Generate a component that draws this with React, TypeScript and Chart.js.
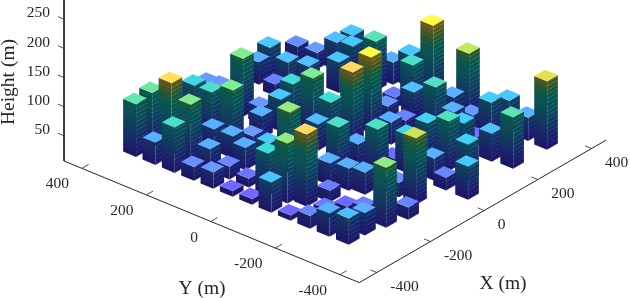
import React, { useEffect, useRef } from "react";
import Chart from "chart.js/auto";

const buildingX = [-324,-264,-264,-113,2,11,-135,-143,-264,-324,-7,139,175,121,-183,-180,-127,-60,-6,-324,-4,-194,-264,-324,-264,-204,-324,-324,-264,-264,-324,-324,287,287,313,349,296,307,162,179,232,130,59,27,34,25,-146,-18,-74,-246,-264,-21,118,244,279,364,347,347,262,195,-69,-202,112,36,187,227,309,300,346,253,293,109,179,217,345,341,210,102,30,243,49,31,341,-16,-131,-121,-111,-194,-138,-206,-203,-324,-264,-324,-324,-324,-264,44,-68];
const buildingY = [353,353,293,346,401,368,275,203,233,233,285,357,353,290,228,172,154,182,230,293,170,48,-7,-67,173,113,173,113,113,53,53,-7,360,300,260,240,125,206,286,235,186,2,-1,96,164,39,24,43,-68,-112,-67,-145,-70,-36,-4,73,-10,114,37,4,-303,-321,-189,-191,-58,-118,-106,-229,-246,-153,-178,-257,-245,-366,-306,-368,-306,-322,-382,-229,-261,-313,-126,-79,-88,-138,-180,-140,-336,-203,-257,-247,-307,-187,-307,-127,-187,-141,-249];
const buildingH = [91,94,125,68,28,28,78,100,101,78,100,38,55,20,38,38,28,38,28,38,55,58,72,52,38,38,24,28,22,15,10,10,25,28,48,55,85,55,48,48,52,130,124,100,72,72,104,45,80,124,103,80,38,48,78,55,130,38,18,28,114,103,65,65,20,80,38,60,55,38,28,85,60,88,40,118,48,62,57,15,38,22,110,38,38,38,38,20,21,10,20,40,38,22,45,9,18,12,25];
const colormapHeights = [0,10,20,28,38,48,55,65,72,80,90,100,110,118,124,130];
const colormapColors = ["#7468ff","#7068ff","#6a80ff","#6a9aff","#5ab0ff","#50c0ff","#48c8ff","#40d4f0","#40dcd8","#50e0c4","#60e4b0","#80ec90","#c0e860","#e0e050","#ffd860","#ffff40"];
const shadeHeights = [0,15,30,50,70,90,105,118,130];
const shadeColors = ["#1c1560","#1a1e64","#162b64","#103c5a","#0b4c54","#0a544a","#285430","#565420","#685c16"];
const xTicks = [-400,-200,0,200,400];
const yTicks = [400,200,0,-200,-400];
const zTicks = [50,100,150,200,250];
const xLabels = ["-400","-200","0","200","400"];
const yLabels = ["400","200","0","-200","-400"];

const FONT = '"Liberation Serif", serif';
const INK = "#262626";
const HALF = 20;
const X_END = [-465, 455];
const Y_END = [-460, 455];
const Z_FLOOR = -2.5;

const sx = (X: number, Y: number) => 335.8 + 0.2685 * X - 0.3225 * Y;
const sy = (X: number, Y: number, Z: number) => 147.9 - 0.155 * X - 0.133 * Y - 0.58 * Z;
const pt = (X: number, Y: number, Z: number) => ({ x: sx(X, Y), y: sy(X, Y, Z) });

function hexRgb(h: string) {
  return [1, 3, 5].map((i) => parseInt(h.slice(i, i + 2), 16));
}
function lookup(hs: number[], cs: string[], z: number, k = 1) {
  let i = 0;
  while (i < hs.length - 2 && z > hs[i + 1]) i++;
  const t = Math.max(0, Math.min(1, (z - hs[i]) / (hs[i + 1] - hs[i])));
  const a = hexRgb(cs[i]);
  const b = hexRgb(cs[i + 1]);
  const c = a.map((v, n) => Math.min(255, Math.round((v + (b[n] - v) * t) * k)));
  return `rgb(${c[0]},${c[1]},${c[2]})`;
}

function sideFill(A: any, B: any, H: number, bright: number) {
  return (ctx: any) => {
    const chart = ctx.chart;
    const safe = (s: any, v: number) => {
      const r = s ? s.getPixelForValue(v) : NaN;
      return Number.isFinite(r) ? r : v;
    };
    const px = (v: number) => safe(chart.scales.x, v);
    const py = (v: number) => safe(chart.scales.y, v);
    const ex = px(B.x) - px(A.x);
    const ey = py(B.y) - py(A.y);
    const len = Math.hypot(ex, ey) || 1;
    const nx = ey / len;
    const ny = -ex / len;
    const ax = px(A.x);
    const ay = py(A.y);
    const pixH = 0.58 * H;
    const sgn = ny < 0 ? 1 : -1;
    const d = pixH * Math.abs(ny);
    const g = chart.ctx.createLinearGradient(ax, ay, ax + sgn * nx * d, ay + sgn * ny * d);
    const band = 2.4;
    const n = Math.max(1, Math.floor(H / band));
    for (let i = 0; i < n; i++) {
      const z0 = (i * H) / n;
      const z1 = ((i + 1) * H) / n;
      const strong = i % 3 === 0 ? bright : 1;
      const c = lookup(shadeHeights, shadeColors, (z0 + z1) / 2, strong);
      g.addColorStop(i / n, c);
      g.addColorStop((i + 1) / n, c);
    }
    return g;
  };
}

function buildDatasets() {
  const order = buildingX
    .map((_, i) => i)
    .sort((a, b) => 0.3225 * buildingX[a] + 0.2685 * buildingY[a] - (0.3225 * buildingX[b] + 0.2685 * buildingY[b]));
  const sets: any[] = [];
  const ink = (data: any[], width = 0.8) => ({
    data,
    borderColor: INK,
    borderWidth: width,
    pointRadius: 0,
    fill: false,
    tension: 0,
    clip: false,
  });
  sets.push(ink([{ x: 64, y: 0 }, { x: 64, y: 161 }, pt(X_END[0], Y_END[0], Z_FLOOR), pt(X_END[1], Y_END[0], Z_FLOOR)], 1));
  yTicks.forEach((t) => sets.push(ink([pt(X_END[0], t, Z_FLOOR), pt(X_END[0] + 25, t, Z_FLOOR)])));
  xTicks.forEach((t) => sets.push(ink([pt(t, Y_END[0], Z_FLOOR), pt(t, Y_END[0] + 20, Z_FLOOR)])));
  zTicks.forEach((t) => {
    const y = 165 - 0.583 * t;
    sets.push(ink([{ x: 64, y }, { x: 58, y: y - 2.6 }]));
  });
  for (const i of order) {
    const X = buildingX[i];
    const Y = buildingY[i];
    const H = buildingH[i];
    const left = pt(X - HALF, Y + HALF, 0);
    const front = pt(X - HALF, Y - HALF, 0);
    const right = pt(X + HALF, Y - HALF, 0);
    const face = (data: any[], backgroundColor: any) => ({
      data,
      backgroundColor,
      borderWidth: 0,
      pointRadius: 0,
      fill: "shape",
      tension: 0,
    });
    sets.push(
      face(
        [pt(X - HALF, Y + HALF, H), pt(X - HALF, Y - HALF, H), pt(X + HALF, Y - HALF, H), pt(X + HALF, Y + HALF, H)],
        lookup(colormapHeights, colormapColors, H)
      )
    );
    sets.push(face([left, front, pt(X - HALF, Y - HALF, H), pt(X - HALF, Y + HALF, H)], sideFill(left, front, H, 1.08)));
    sets.push(face([front, right, pt(X + HALF, Y - HALF, H), pt(X - HALF, Y - HALF, H)], sideFill(front, right, H, 1.35)));
  }
  return sets;
}

const textPlugin = {
  id: "projectedText",
  afterDraw(chart: any) {
    const { ctx, scales } = chart;
    const px = (v: number) => scales.x.getPixelForValue(v);
    const py = (v: number) => scales.y.getPixelForValue(v);
    ctx.save();
    ctx.fillStyle = INK;
    ctx.textBaseline = "middle";
    ctx.font = `15.5px ${FONT}`;
    ctx.textAlign = "right";
    yTicks.forEach((t, i) => {
      const p = pt(X_END[0], t, Z_FLOOR);
      ctx.fillText(yLabels[i], px(p.x) - 13, py(p.y) + 16);
    });
    ctx.textAlign = "left";
    xTicks.forEach((t, i) => {
      const p = pt(t, Y_END[0], Z_FLOOR);
      ctx.fillText(xLabels[i], px(p.x) + 13.5, py(p.y) + 14);
    });
    ctx.textAlign = "center";
    ctx.font = `19.5px ${FONT}`;
    ctx.fillText("Y (m)", 202, 289);
    ctx.fillText("X (m)", 503, 284);
    ctx.translate(9, 82);
    ctx.rotate(-Math.PI / 2);
    ctx.fillText("Height (m)", 0, 0);
    ctx.restore();
  },
};

export default function App() {
  const ref = useRef<HTMLCanvasElement>(null);
  useEffect(() => {
    const chart = new Chart(ref.current as HTMLCanvasElement, {
      type: "line",
      data: { datasets: buildDatasets() },
      options: {
        animation: false,
        responsive: false,
        parsing: false,
        layout: { padding: 0, autoPadding: false },
        plugins: { legend: { display: false }, tooltip: { enabled: false } },
        scales: {
          x: { type: "linear", min: 64, max: 630, display: false },
          y: { type: "linear", min: 0, max: 298, reverse: true, display: false },
          z: {
            type: "linear",
            position: "left",
            min: -236.8,
            max: 272.6,
            grid: { display: false, drawTicks: false },
            border: { display: false },
            afterFit: (s: any) => {
              s.width = 64;
              s.paddingTop = 0;
              s.paddingBottom = 0;
              s.paddingLeft = 0;
              s.paddingRight = 0;
            },
            afterBuildTicks: (s: any) => {
              s.ticks = zTicks.map((value) => ({ value }));
            },
            ticks: {
              padding: 14,
              color: INK,
              font: { family: FONT, size: 15.5 },
              maxRotation: 0,
              autoSkip: false,
              callback: (v: any) => String(v),
            },
          },
        },
      },
      plugins: [textPlugin],
    } as any);
    return () => chart.destroy();
  }, []);
  return (
    <div style={{ position: "fixed", left: 0, top: 0, width: 630, height: 298, background: "#fff" }}>
      <canvas ref={ref} width={630} height={298} style={{ display: "block", width: 630, height: 298 }} />
    </div>
  );
}
